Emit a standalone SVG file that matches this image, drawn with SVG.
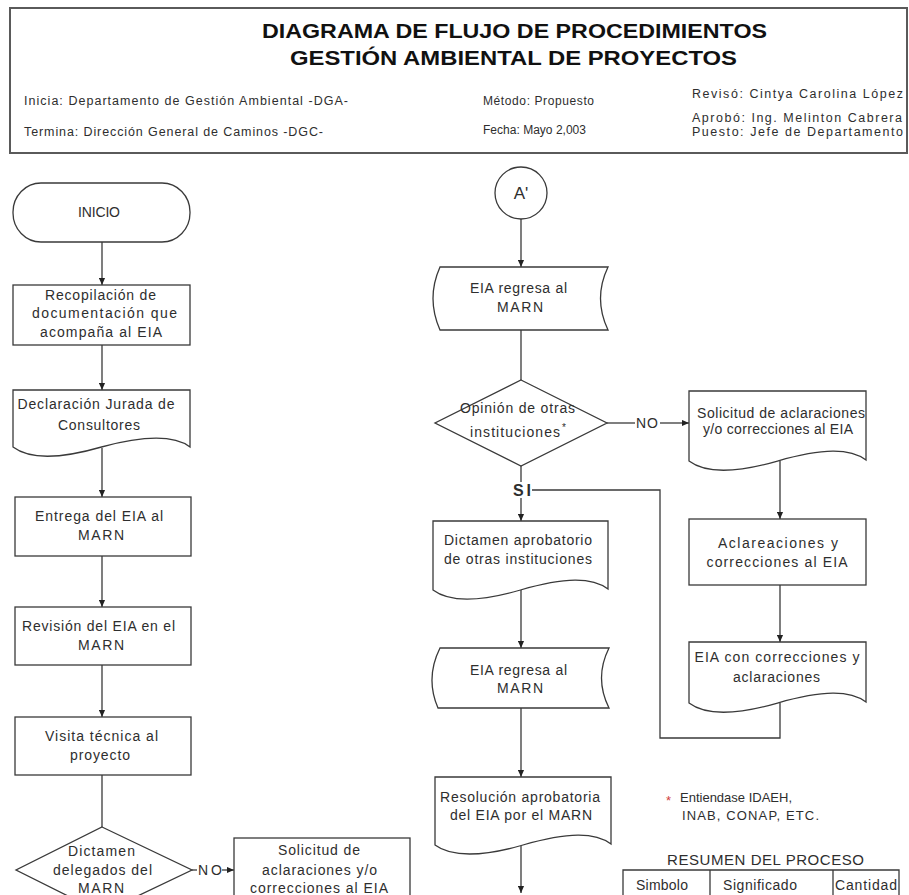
<svg xmlns="http://www.w3.org/2000/svg" width="909" height="895" viewBox="0 0 909 895">
  <style>
    .bg { fill: #ffffff; }
    .shape { fill: #ffffff; stroke: #3a3a3a; stroke-width: 1.3; }
    .line { fill: none; stroke: #3a3a3a; stroke-width: 1.3; }
    .frame { fill: none; stroke: #5a5a5a; stroke-width: 2; }
    .t { font-family: "Liberation Sans", Arial, sans-serif; font-size: 14px; fill: #2e2e2e; text-anchor: middle; }
    .h { font-family: "Liberation Sans", Arial, sans-serif; font-size: 12.5px; fill: #2e2e2e; }
    .title { font-family: "Liberation Sans", Arial, sans-serif; font-size: 20px; font-weight: bold; fill: #111; text-anchor: middle; }
    .lbl { font-family: "Liberation Sans", Arial, sans-serif; font-size: 14px; fill: #2e2e2e; text-anchor: middle; }
  </style>
  <defs>
    <marker id="arr" viewBox="0 0 8 8" refX="8" refY="4" markerWidth="7" markerHeight="7" markerUnits="userSpaceOnUse" orient="auto">
      <path d="M0,0.5 L8,4 L0,7.5 Z" fill="#222"/>
    </marker>
  </defs>

  <rect class="bg" x="0" y="0" width="909" height="895"/>

  <!-- Header block -->
  <g id="header">
    <rect class="frame" x="10" y="8" width="897" height="145"/>
    <text class="title" x="514.5" y="38" textLength="505" lengthAdjust="spacingAndGlyphs">DIAGRAMA DE FLUJO DE PROCEDIMIENTOS</text>
    <text class="title" x="513.5" y="65" textLength="447" lengthAdjust="spacingAndGlyphs">GESTIÓN AMBIENTAL DE PROYECTOS</text>
    <text class="h" x="24" y="105" textLength="324" lengthAdjust="spacing">Inicia: Departamento de Gestión Ambiental -DGA-</text>
    <text class="h" x="24" y="136" textLength="299" lengthAdjust="spacing">Termina: Dirección General de Caminos -DGC-</text>
    <text class="h" x="483" y="105" textLength="111" lengthAdjust="spacing" style="font-size:12px">Método: Propuesto</text>
    <text class="h" x="483" y="134" textLength="103" lengthAdjust="spacing" style="font-size:12px">Fecha: Mayo 2,003</text>
    <text class="h" x="692" y="98" textLength="211" lengthAdjust="spacing">Revisó: Cintya Carolina López</text>
    <text class="h" x="692" y="122" textLength="210" lengthAdjust="spacing">Aprobó: Ing. Melinton Cabrera</text>
    <text class="h" x="692" y="136" textLength="211" lengthAdjust="spacing">Puesto: Jefe de Departamento</text>
  </g>

  <!-- Connectors -->
  <g id="connectors">
    <line class="line" x1="102" y1="242" x2="102" y2="285" marker-end="url(#arr)"/>
    <line class="line" x1="102" y1="345" x2="102" y2="390" marker-end="url(#arr)"/>
    <line class="line" x1="102" y1="448" x2="102" y2="497" marker-end="url(#arr)"/>
    <line class="line" x1="102" y1="556" x2="102" y2="607" marker-end="url(#arr)"/>
    <line class="line" x1="102" y1="665" x2="102" y2="717" marker-end="url(#arr)"/>
    <line class="line" x1="102" y1="775" x2="102" y2="827"/>
    <line class="line" x1="192" y1="870" x2="197" y2="870"/>
    <line class="line" x1="222" y1="870" x2="234" y2="870" marker-end="url(#arr)"/>

    <line class="line" x1="521" y1="219" x2="521" y2="267" marker-end="url(#arr)"/>
    <line class="line" x1="521" y1="330" x2="521" y2="380"/>
    <line class="line" x1="521" y1="465" x2="521" y2="482"/>
    <line class="line" x1="521" y1="498" x2="521" y2="521" marker-end="url(#arr)"/>
    <line class="line" x1="607" y1="423" x2="635" y2="423"/>
    <line class="line" x1="660" y1="423" x2="689" y2="423" marker-end="url(#arr)"/>
    <line class="line" x1="780" y1="461" x2="780" y2="519" marker-end="url(#arr)"/>
    <line class="line" x1="780" y1="585" x2="780" y2="642" marker-end="url(#arr)"/>
    <polyline class="line" points="780,703 780,738 660,738 660,490 532,490"/>
    <line class="line" x1="521" y1="590" x2="521" y2="648" marker-end="url(#arr)"/>
    <line class="line" x1="521" y1="708" x2="521" y2="777" marker-end="url(#arr)"/>
    <line class="line" x1="521" y1="846" x2="521" y2="893" marker-end="url(#arr)"/>
  </g>

  <!-- Left column -->
  <g id="inicio">
    <rect class="shape" x="13" y="183" width="177" height="59" rx="28" ry="29"/>
    <text class="t" x="99" y="217" textLength="42" lengthAdjust="spacing">INICIO</text>
  </g>

  <g id="recopilacion">
    <rect class="shape" x="13" y="285" width="177" height="60"/>
    <text class="t" x="100.5" y="300" textLength="111" lengthAdjust="spacing">Recopilación de</text>
    <text class="t" x="104.5" y="318" textLength="145" lengthAdjust="spacing">documentación que</text>
    <text class="t" x="101" y="337" textLength="122" lengthAdjust="spacing">acompaña al EIA</text>
  </g>

  <g id="declaracion">
    <path class="shape" d="M13,390 H190 V447 C174,435 146,435 101.5,447 C60,459 29,459 13,447 Z"/>
    <text class="t" x="96" y="409" textLength="157" lengthAdjust="spacing">Declaración Jurada de</text>
    <text class="t" x="99" y="430" textLength="82" lengthAdjust="spacing">Consultores</text>
  </g>

  <g id="entrega">
    <rect class="shape" x="15" y="497" width="176" height="59"/>
    <text class="t" x="99" y="521" textLength="128" lengthAdjust="spacing">Entrega del EIA al</text>
    <text class="t" x="101" y="540" textLength="46" lengthAdjust="spacing">MARN</text>
  </g>

  <g id="revision">
    <rect class="shape" x="15" y="607" width="176" height="58"/>
    <text class="t" x="98.5" y="631" textLength="153" lengthAdjust="spacing">Revisión del EIA en el</text>
    <text class="t" x="101" y="650" textLength="46" lengthAdjust="spacing">MARN</text>
  </g>

  <g id="visita">
    <rect class="shape" x="15" y="717" width="176" height="58"/>
    <text class="t" x="101.5" y="741" textLength="113" lengthAdjust="spacing">Visita técnica al</text>
    <text class="t" x="100" y="760" textLength="60" lengthAdjust="spacing">proyecto</text>
  </g>

  <g id="dictamen-marn">
    <polygon class="shape" points="102,827 192,870 102,913 16,870"/>
    <text class="t" x="101.5" y="856" textLength="67" lengthAdjust="spacing">Dictamen</text>
    <text class="t" x="102.5" y="875" textLength="99" lengthAdjust="spacing">delegados del</text>
    <text class="t" x="101" y="893" textLength="46" lengthAdjust="spacing">MARN</text>
  </g>
  <text class="lbl" x="210" y="875" textLength="24" lengthAdjust="spacing">NO</text>

  <g id="solicitud-1">
    <rect class="shape" x="234" y="838" width="176" height="70"/>
    <text class="t" x="319" y="855" textLength="82" lengthAdjust="spacing">Solicitud de</text>
    <text class="t" x="319.5" y="875" textLength="115" lengthAdjust="spacing">aclaraciones y/o</text>
    <text class="t" x="319" y="893" textLength="138" lengthAdjust="spacing">correcciones al EIA</text>
  </g>

  <!-- Right column -->
  <g id="conector-a">
    <circle class="shape" cx="521" cy="193" r="26"/>
    <text class="lbl" x="521" y="199" style="font-size:17px">A'</text>
  </g>

  <g id="regresa-1">
    <path class="shape" d="M440,267 H608 Q593,298.5 608,330 H440 Q426,298.5 440,267 Z"/>
    <text class="t" x="518.5" y="293" textLength="97" lengthAdjust="spacing">EIA regresa al</text>
    <text class="t" x="520" y="312" textLength="46" lengthAdjust="spacing">MARN</text>
  </g>

  <g id="opinion">
    <polygon class="shape" points="521,380 607,423 521,466 435,423"/>
    <text class="t" x="517.5" y="413" textLength="115" lengthAdjust="spacing">Opinión de otras</text>
    <text class="t" x="515" y="437" textLength="90" lengthAdjust="spacing">instituciones</text>
    <text class="lbl" x="564" y="431" style="font-size:10px">*</text>
  </g>
  <text class="lbl" x="647" y="428" textLength="22" lengthAdjust="spacing">NO</text>
  <text class="lbl" x="522" y="496" textLength="18" lengthAdjust="spacing" style="font-size:16px;font-weight:bold">SI</text>

  <g id="solicitud-2">
    <path class="shape" d="M689,391 H866 V460 C850,448 823,448 777.5,461 C736,473 705,473 689,461 Z"/>
    <text class="t" x="781" y="418" textLength="168" lengthAdjust="spacing">Solicitud de aclaraciones</text>
    <text class="t" x="778" y="434" textLength="150" lengthAdjust="spacing">y/o correcciones al EIA</text>
  </g>

  <g id="aclaraciones">
    <rect class="shape" x="689" y="519" width="177" height="66"/>
    <text class="t" x="778" y="548" textLength="120" lengthAdjust="spacing">Aclareaciones y</text>
    <text class="t" x="777" y="567" textLength="141" lengthAdjust="spacing">correcciones al EIA</text>
  </g>

  <g id="eia-correcciones">
    <path class="shape" d="M689,642 H866 V702 C850,690 823,690 777.5,703 C736,715 705,715 689,703 Z"/>
    <text class="t" x="777" y="662" textLength="165" lengthAdjust="spacing">EIA con correcciones y</text>
    <text class="t" x="776.5" y="682" textLength="87" lengthAdjust="spacing">aclaraciones</text>
  </g>

  <g id="dictamen-aprobatorio">
    <path class="shape" d="M433,521 H608 V589 C592,577 565,577 520.5,590 C479,602 449,602 433,590 Z"/>
    <text class="t" x="518" y="545" textLength="148" lengthAdjust="spacing">Dictamen aprobatorio</text>
    <text class="t" x="518" y="564" textLength="148" lengthAdjust="spacing">de otras instituciones</text>
  </g>

  <g id="regresa-2">
    <path class="shape" d="M440,648 H609 Q594,678 609,708 H438 Q425,678 440,648 Z"/>
    <text class="t" x="518.5" y="675" textLength="97" lengthAdjust="spacing">EIA regresa al</text>
    <text class="t" x="520" y="693" textLength="46" lengthAdjust="spacing">MARN</text>
  </g>

  <g id="resolucion">
    <path class="shape" d="M435,777 H611 V844 C595,832 568,832 523,845 C482,857 451,857 435,845 Z"/>
    <text class="t" x="520" y="802" textLength="160" lengthAdjust="spacing">Resolución aprobatoria</text>
    <text class="t" x="521" y="820" textLength="142" lengthAdjust="spacing">del EIA por el MARN</text>
  </g>

  <!-- Footnote -->
  <g id="nota">
    <text class="h" x="666" y="805" style="font-size:13px;fill:#d04040">*</text>
    <text class="h" x="680" y="802" style="font-size:13px">Entiendase IDAEH,</text>
    <text class="h" x="682" y="820" textLength="137" lengthAdjust="spacing" style="font-size:13px">INAB, CONAP, ETC.</text>
  </g>

  <!-- Process summary table -->
  <g id="resumen">
    <text class="lbl" x="765.5" y="865" textLength="197" lengthAdjust="spacing" style="font-size:15px">RESUMEN DEL PROCESO</text>
    <polyline class="line" points="623,895 623,870 899,870 899,895"/>
    <line class="line" x1="710" y1="870" x2="710" y2="895"/>
    <line class="line" x1="833" y1="870" x2="833" y2="895"/>
    <text class="t" x="662" y="890" textLength="52" lengthAdjust="spacing">Simbolo</text>
    <text class="t" x="760" y="890" textLength="74" lengthAdjust="spacing">Significado</text>
    <text class="t" x="866" y="890" textLength="62" lengthAdjust="spacing">Cantidad</text>
  </g>
</svg>
